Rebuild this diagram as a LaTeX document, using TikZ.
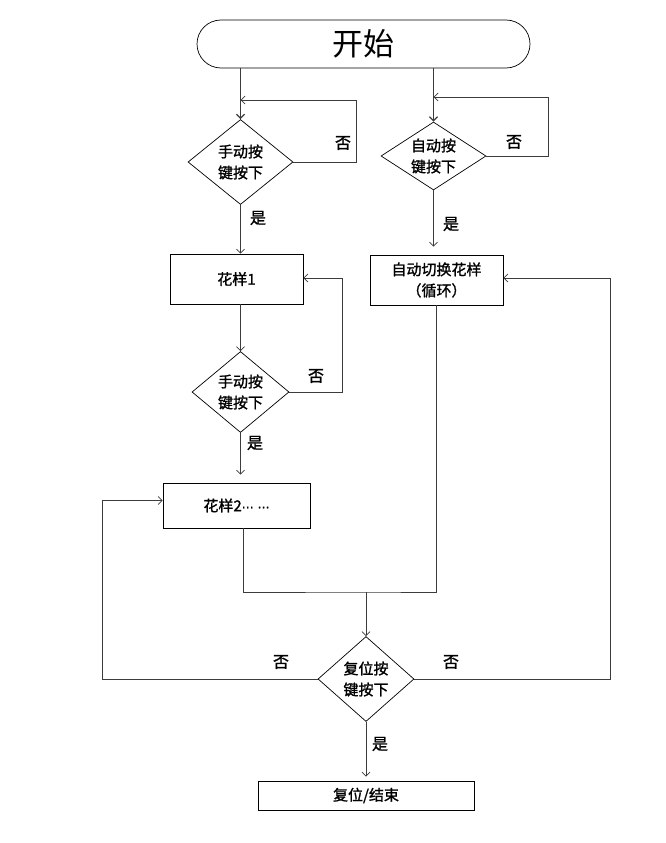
\documentclass[tikz,border=0pt]{standalone}
\usepackage{fontspec}
\newfontfamily\cjk[FakeBold=1.4]{Noto Sans CJK SC}
\newfontfamily\cjklight{Noto Sans CJK SC}
\newfontfamily\symb[FakeBold=1.4]{DejaVu Sans}
\usetikzlibrary{shapes.geometric, arrows.meta, positioning}
\definecolor{flowline}{RGB}{60,60,60}

\begin{document}
\begin{tikzpicture}[x=1pt, y=-1pt,
  box/.style={draw=black, line width=0.7pt, font=\cjk\fontsize{15}{21}\selectfont, align=center, inner sep=0pt},
  test/.style={draw=black, line width=0.7pt, shape=diamond, aspect=1.25, inner sep=0pt, font=\cjk\fontsize{15}{21}\selectfont, align=center},
  lbl/.style={font=\cjk\fontsize{16}{20}\selectfont, inner sep=0pt},
  flow/.style={draw=flowline, line width=0.8pt},
  arr/.style={flow, -{Straight Barb[length=4pt,width=8pt]}}]
 \useasboundingbox (0,0) rectangle (666,843);
 \node[draw, rounded corners=24pt, minimum width=333pt, minimum height=48pt, line width=0.7pt, font=\cjklight\fontsize{31}{31}\selectfont] (start) at (363.5,44){开始};
 \node[test, minimum width=105pt, minimum height=85pt] (hand1) at (240.5,162){手动按\\键按下};
 \node[test, aspect=1.55, minimum width=105pt, minimum height=68pt] (auto) at (433.5,156){自动按\\键按下};
 \node[box, minimum width=133pt, minimum height=50pt] (pat1) at (236.5,279){花样1};
 \node[box, minimum width=133pt, minimum height=50pt] (cycle) at (436.5,280){自动切换花样\\（循环）};
 \node[test, minimum width=97pt, minimum height=81pt] (hand2) at (240.5,392){手动按\\键按下};
 \node[box, minimum width=147pt, minimum height=45pt] (pat2) at (236.5,505.5){花样2{\symb\fontsize{12}{12}\selectfont ⋯ ⋯}};
 \node[test, minimum width=96pt, minimum height=85pt] (reset) at (366,679){复位按\\键按下};
 \node[box, minimum width=216pt, minimum height=29pt] (finish) at (366,795.5){复位/结束};
 \coordinate (back1) at (240.5,100);
 \coordinate (back2) at (433.5,97);
 \coordinate (merge) at (366,592);
 \draw[arr, line width=1.3pt] (hand1.north |- start.south) -- (hand1.north);
 \draw[arr] (hand1.east) -- ++(63,0) |- (back1);
 \draw[arr, line width=1.3pt] (auto.north |- start.south) -- (auto.north);
 \draw[arr] (auto.east) -- ++(62,0) |- (back2);
 \draw[arr] (hand1.south) -- (hand1 |- pat1.north);
 \draw[arr] (auto.south) -- ([yshift=8pt]auto |- cycle.north);
 \draw[arr] (pat1.south -| hand2.north) -- (hand2.north);
 \draw[arr] (hand2.east) -- ++(53,0) |- ([yshift=1pt]pat1.east);
 \draw[arr] (hand2.south) -- ([yshift=8pt]hand2 |- pat2.north);
 \draw[flow] ([xshift=6.5pt]pat2.south) |- (merge) -| (cycle.south);
 \draw[arr] (merge) -- (reset.north);
 \draw[arr] (reset.west) -- ++(-215,0) |- ([yshift=5pt]pat2.west);
 \draw[arr] (reset.east) -- ++(196,0) |- ([yshift=2pt]cycle.east);
 \draw[arr] (reset.south) -- ([yshift=4pt]reset |- finish.north);
 \node[lbl] (no1) at (343,143){否};
 \node[lbl] (yes1) at (258,218){是};
 \node[lbl] (no2) at (514,142){否};
 \node[lbl] (yes2) at (451,224){是};
 \node[lbl] (no3) at (316,376){否};
 \node[lbl] (yes3) at (255,443){是};
 \node[lbl] (no4) at (281,662){否};
 \node[lbl] (no5) at (451,662){否};
 \node[lbl] (yes4) at (380,744){是};
\end{tikzpicture}
\end{document}
